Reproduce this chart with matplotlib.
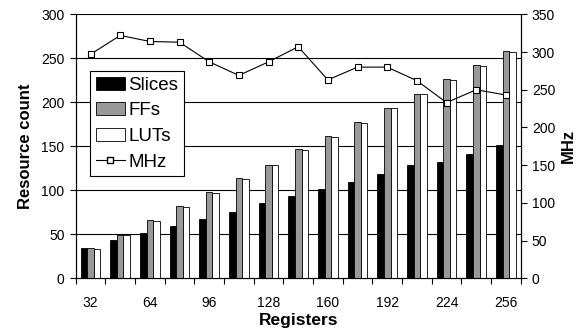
import numpy as np
import matplotlib.pyplot as plt
from matplotlib.patches import Patch
from matplotlib.lines import Line2D

plt.rcParams["font.family"] = ["Liberation Sans", "DejaVu Sans"]

registers = [32, 48, 64, 80, 96, 112, 128, 144, 160, 176, 192, 208, 224, 240, 256]
slices = [34, 43, 51, 60, 67, 75, 86, 93, 101, 110, 118, 129, 132, 141, 152]
ffs = [34, 49, 66, 82, 98, 114, 129, 147, 162, 178, 194, 210, 226, 242, 258]
luts = [33, 49, 65, 81, 97, 113, 129, 146, 161, 177, 193, 209, 225, 241, 257]
mhz = [297, 322, 314, 313, 287, 269, 287, 307, 263, 280, 280, 262, 233, 250, 243]
tick_labels = ["32", "64", "96", "128", "160", "192", "224", "256"]

GRAY = "#999999"

fig = plt.figure(figsize=(5.8, 3.36), dpi=100)
ax = fig.add_axes([0.1305, 0.1717, 0.7673, 0.7857])
ax2 = ax.twinx()

x = np.arange(len(registers))
w = 1 / 4.5
kw = dict(width=w, edgecolor="black", linewidth=0.6, zorder=3)
ax.bar(x - w, slices, color="black", **kw)
ax.bar(x, ffs, color=GRAY, **kw)
ax.bar(x + w, luts, color="white", **kw)

ax2.plot(x, mhz, color="black", lw=0.8, marker="s", ms=4,
         mfc="white", mec="black", mew=0.8, zorder=4)

ax.set_xlim(-0.5, len(registers) - 0.5)
ax.set_ylim(0, 300)
ax2.set_ylim(0, 350)
ax.set_yticks(np.arange(0, 301, 50))
ax2.set_yticks(np.arange(0, 351, 50))
for v in range(50, 301, 50):
    ax.axhline(v, color="black", lw=0.8, zorder=1)

# tick marks at group boundaries, labels under every other group
ax.set_xticks(np.arange(-0.5, len(registers), 1))
ax.set_xticklabels([])
ax.set_xticks(x[::2], minor=True)
ax.set_xticklabels(tick_labels, minor=True)
ax.tick_params(axis="x", which="major", length=4, width=0.8, direction="out")
ax.tick_params(axis="x", which="minor", length=0, pad=13, labelsize=10)
ax.tick_params(axis="y", length=4, width=0.8, labelsize=10, pad=4)
ax2.tick_params(axis="y", length=4, width=0.8, labelsize=10, pad=4)

for a in (ax, ax2):
    a.spines["top"].set_visible(False)
    for s in ("left", "right", "bottom"):
        a.spines[s].set_linewidth(0.8)

ax.set_xlabel("Registers", fontsize=12.5, fontweight="bold", labelpad=2)
ax.set_ylabel("Resource count", fontsize=12, fontweight="bold", labelpad=6)
ax2.set_ylabel("MHz", fontsize=12, fontweight="bold", rotation=90, labelpad=4)

handles = [
    Patch(facecolor="black", edgecolor="black", lw=0.6),
    Patch(facecolor=GRAY, edgecolor="black", lw=0.6),
    Patch(facecolor="white", edgecolor="black", lw=0.6),
    Line2D([], [], color="black", lw=0.8, marker="s", ms=4, mfc="white", mec="black"),
]
leg = ax2.legend(handles, ["Slices", "FFs", "LUTs", "MHz"], loc="upper left",
                 bbox_to_anchor=(0.032, 0.785), borderaxespad=0, fontsize=13.5,
                 fancybox=False, framealpha=1, edgecolor="black",
                 handlelength=1.55, handleheight=0.7, handletextpad=0.2,
                 labelspacing=0.45, borderpad=0.3)
leg.get_frame().set_linewidth(0.8)

fig.savefig("out.png", dpi=100)
